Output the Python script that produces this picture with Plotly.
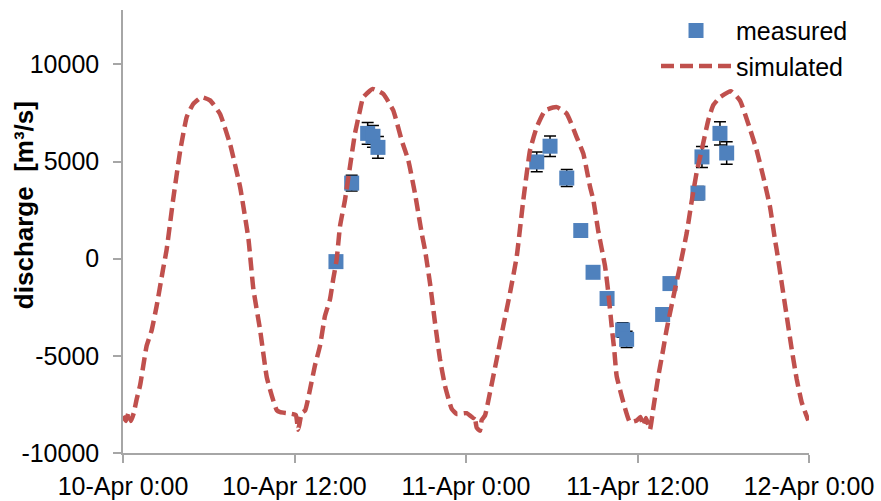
import pandas as pd
import plotly.graph_objects as go

# ---------------- data ----------------
base_time = "2013-04-10 00:00"

# simulated discharge: hours after 10-Apr 0:00, value in m3/s
sim_hours = [0.0, 0.2, 0.4, 0.55, 0.75, 0.95, 1.2, 1.65, 2.0, 2.35, 2.8, 3.05, 3.5, 4.0, 4.46, 4.92,
             5.5, 6.09, 6.79, 7.49, 8.19, 8.78, 9.12, 9.59, 10.06, 10.41, 10.76, 11.0, 11.5, 11.9,
             12.1, 12.25, 12.35, 12.5, 12.75, 13.08, 13.43, 13.78, 14.13, 14.48, 14.71, 14.95,
             15.18, 15.53, 15.88, 16.23, 16.58, 16.81, 17.47, 18.21, 18.91, 19.5, 19.96, 20.43,
             20.9, 21.13, 21.48, 21.83, 22.18, 22.53, 23.0, 23.35, 24.05, 24.51, 24.6, 24.75,
             24.98, 25.1, 25.33, 25.68, 26.15, 26.61, 27.08, 27.55, 28.01, 28.48, 28.95, 29.53,
             30.35, 31.05, 31.74, 32.21, 32.45, 32.68, 32.91, 33.26, 33.73, 33.96, 34.19, 34.38,
             34.54, 35.01, 35.47, 35.94, 36.2, 36.41, 36.6, 36.87, 37.1, 37.46, 37.8, 38.04,
             38.5, 38.97, 39.44, 39.79, 40.14, 40.49, 40.95, 41.3, 41.77, 42.54, 43.17, 43.75,
             44.34, 44.8, 45.27, 45.62, 45.74, 46.09, 46.44, 46.79, 47.14, 47.49, 47.95]
sim_values = [-8100, -8350, -7900, -8350, -7950, -7250, -6500, -4500, -3700, -2450, -550, 450,
              3000, 5550, 7300, 7970, 8320, 8150, 7450, 5900, 3700, 1000, -1550, -3650, -6100,
              -7050, -7800, -7900, -7950, -8000, -8050, -8800, -8500, -7950, -7800, -6750,
              -5500, -4500, -2950, -2100, -1050, -50, 1650, 3020, 4730, 6440, 7630, 8310,
              8740, 8480, 7630, 6090, 5070, 3360, 1310, 460, -1250, -3290, -5170, -6540,
              -7730, -7990, -7950, -8200, -8100, -8700, -8850, -8300, -8070, -6880, -5170,
              -3460, -1760, 120, 3020, 5580, 6770, 7630, 7800, 7460, 6260, 5410, 4560, 3700,
              3020, 1400, -390, -1760, -3460, -4750, -6030, -7390, -8410, -8330, -8150, -8590,
              -8200, -8800, -7730, -6030, -4660, -3640, -2000, -390, 1310, 2950, 4450, 5580,
              7120, 7900, 8310, 8620, 8140, 6950, 5580, 4220, 2680, 970, 460, -1250, -2950,
              -4660, -6200, -7390, -8330]

# measured discharge with error bars
meas_hours = [14.90, 16.00, 17.12, 17.49, 17.84, 28.95, 29.88, 31.05, 32.03, 32.89, 33.87,
              34.96, 35.24, 37.76, 38.27, 40.23, 40.51, 41.77, 42.24]
meas_values = [-150, 3890, 6450, 6300, 5730, 4980, 5790, 4150, 1450, -700, -2050,
               -3670, -4150, -2870, -1280, 3380, 5240, 6450, 5440]
meas_err = [20, 400, 560, 560, 560, 510, 530, 440, 150, 80, 200,
            370, 420, 290, 130, 340, 540, 600, 580]

y_tickvals = [-10000, -5000, 0, 5000, 10000]
y_ticktext = ["-10000", "-5000", "0", "5000", "10000"]
x_tickvals = ["2013-04-10 00:00", "2013-04-10 12:00", "2013-04-11 00:00",
              "2013-04-11 12:00", "2013-04-12 00:00"]

# ---------------- figure ----------------
t0 = pd.Timestamp(base_time)
sim_x = t0 + pd.to_timedelta(sim_hours, unit="h")
meas_x = t0 + pd.to_timedelta(meas_hours, unit="h")

FONT = "Liberation Sans, Arial, sans-serif"
AXIS_GREY = "#A6A6A6"

fig = go.Figure()
fig.add_trace(go.Scatter(
    x=meas_x, y=meas_values, mode="markers", name="measured",
    marker=dict(symbol="square", size=15, color="#4F81BD"),
    error_y=dict(type="data", array=meas_err, visible=True, color="black",
                 thickness=1.5, width=6),
))
fig.add_trace(go.Scatter(
    x=sim_x, y=sim_values, mode="lines", name="simulated",
    line=dict(color="#C0504D", width=4.5, dash="13px,6px", shape="spline", smoothing=0.4),
))

fig.update_layout(
    width=881, height=501,
    margin=dict(l=123, r=72, t=10, b=48, autoexpand=False),
    paper_bgcolor="white", plot_bgcolor="white",
    font=dict(family=FONT, size=25, color="black"),
    showlegend=True,
    legend=dict(x=0.777, y=1.005, xanchor="left", yanchor="top",
                bgcolor="rgba(0,0,0,0)", font=dict(size=25),
                tracegroupgap=0, itemwidth=70),
)
fig.update_xaxes(
    type="date", range=[x_tickvals[0], x_tickvals[-1]],
    tickvals=x_tickvals, tickformat="%d-%b %-H:%M",
    showgrid=False, zeroline=False, automargin=False,
    showline=True, linecolor=AXIS_GREY, linewidth=1.5,
    ticks="outside", ticklen=8, tickcolor=AXIS_GREY, tickwidth=1.5,
    tickfont=dict(size=25), ticklabelstandoff=2,
)
fig.update_yaxes(
    range=[-10000, 12800], tickvals=y_tickvals, ticktext=y_ticktext,
    showgrid=False, zeroline=False, automargin=False,
    showline=True, linecolor=AXIS_GREY, linewidth=1.5,
    ticks="outside", ticklen=8, tickcolor=AXIS_GREY, tickwidth=1.5,
    tickfont=dict(size=25), ticklabelstandoff=9,
)
fig.add_annotation(
    text="<b>discharge\u00a0 [m³/s]</b>", textangle=-90,
    xref="paper", yref="paper", x=-0.144, y=0.56,
    xanchor="center", yanchor="middle", showarrow=False,
    font=dict(size=26, family=FONT),
)

fig.write_html("out.html")
